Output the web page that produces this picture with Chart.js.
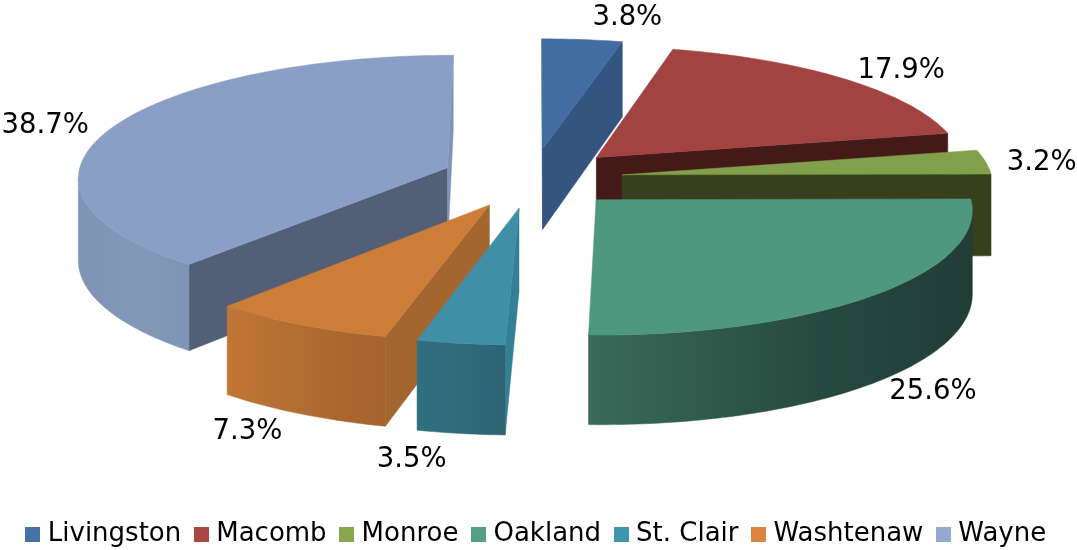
<!DOCTYPE html>
<html>
<head>
<meta charset="utf-8">
<title>Counties</title>
<script src="https://cdn.jsdelivr.net/npm/chart.js@4"></script>
<style>
  html, body { margin: 0; padding: 0; background: #fff; overflow: hidden; }
  canvas { display: block; }
</style>
</head>
<body>
<canvas id="chrtPie" width="1077" height="550"></canvas>
<script>
const categories = ["Livingston", "Macomb", "Monroe", "Oakland", "St. Clair", "Washtenaw", "Wayne"];
const shares = [3.8, 17.9, 3.2, 25.6, 3.5, 7.3, 38.7];

const legendColors = ["#4572a7", "#aa4643", "#89a54e", "#559f86", "#3d96ae", "#db843d", "#93a9cf"];
const topColors = ["#426da3", "#a04341", "#82a04c", "#4f9880", "#3f8fa7", "#cc7d38", "#8a9fc5"];
const startFaceColors = ["#34557f", "#431a18", "#383f1d", "#213d36", "#338094", "#a3662e", "#525f76"];
const endFaceColors = ["#34557f", "#431a18", "#383f1d", "#213d36", "#338094", "#a3662e", "#7f94b5"];
const wallLeft = ["#34557f", "#431a18", "#383f1d", "#3a6a5a", "#306f80", "#c07635", "#7f94b5"];
const wallMid = ["#34557f", "#431a18", "#383f1d", "#264a3f", "#2e6a7a", "#ad6a30", "#8399ba"];
const wallRight = ["#34557f", "#431a18", "#383f1d", "#213d36", "#2d6474", "#a3642e", "#7f94b5"];

// nudge of each percent label away from the middle of its slice edge
const labelNudgeX = [45, 58, 56, 57, -49, -53, -68];
const labelNudgeY = [-22, -8, 1, 97, 116, 107, -1];

// the tilted view of the pie
const view = { cx: 532, cy: 178, radius: 370, tilt: 0.33, persp: 0.073, depth: 82 };

function project(u, v, down) {
    const w = 1 / (1 - view.persp * v);
    return {
        x: view.cx + view.radius * u * w,
        y: view.cy + view.radius * view.tilt * v * w + (down ? view.depth * w : 0)
    };
}

function tracePath(ctx, pts) {
    ctx.beginPath();
    pts.forEach((p, i) => i ? ctx.lineTo(p.x, p.y) : ctx.moveTo(p.x, p.y));
    ctx.closePath();
}

function fillPath(ctx, pts, color) {
    tracePath(ctx, pts);
    ctx.fillStyle = color;
    ctx.strokeStyle = color;
    ctx.lineWidth = 0.5;
    ctx.fill();
    ctx.stroke();
}

// geometry of one slice from the arc element that Chart.js laid out
function sliceShape(arc) {
    const start = arc.startAngle;
    const end = arc.endAngle;
    const mid = (start + end) / 2;
    const push = arc.options.offset / arc.outerRadius;
    const tipU = Math.cos(mid) * push;
    const tipV = Math.sin(mid) * push;
    const steps = Math.max(4, Math.ceil((end - start) / 0.02));
    const edge = [];
    for (let i = 0; i <= steps; i++) {
        const a = start + (end - start) * i / steps;
        edge.push({ u: tipU + Math.cos(a), v: tipV + Math.sin(a) });
    }
    return { mid, push, tipU, tipV, edge };
}

const pie3d = {
    id: "pie3d",
    afterLayout(chart) {
        // legend sits lower than the bottom padding would put it
        chart.legend.top += 7;
    },
    beforeDatasetsDraw(chart) {
        const ctx = chart.ctx;
        const arcs = chart.getDatasetMeta(0).data;
        const order = arcs.map((a, i) => i).sort((a, b) =>
            Math.sin(sliceShape(arcs[a]).mid) - Math.sin(sliceShape(arcs[b]).mid));

        order.forEach(i => {
            const s = sliceShape(arcs[i]);
            const tipTop = project(s.tipU, s.tipV, false);
            const tipLow = project(s.tipU, s.tipV, true);
            const top = s.edge.map(p => project(p.u, p.v, false));
            const low = s.edge.map(p => project(p.u, p.v, true));
            const last = top.length - 1;

            // flat cut faces, only the ones turned to the viewer
            if (top[0].x < tipTop.x) {
                fillPath(ctx, [tipTop, top[0], low[0], tipLow], startFaceColors[i]);
            }
            if (top[last].x > tipTop.x) {
                fillPath(ctx, [tipTop, top[last], low[last], tipLow], endFaceColors[i]);
            }

            // round outer wall, where the rim runs right to left on screen
            const wallTop = [];
            const wallLow = [];
            for (let k = 0; k < last; k++) {
                if (top[k + 1].x < top[k].x) {
                    if (!wallTop.length) { wallTop.push(top[k]); wallLow.push(low[k]); }
                    wallTop.push(top[k + 1]);
                    wallLow.push(low[k + 1]);
                }
            }
            if (wallTop.length) {
                const xs = wallTop.map(p => p.x);
                const grad = ctx.createLinearGradient(Math.min(...xs), 0, Math.max(...xs), 0);
                grad.addColorStop(0, wallLeft[i]);
                grad.addColorStop(0.6, wallMid[i]);
                grad.addColorStop(1, wallRight[i]);
                fillPath(ctx, wallTop.concat(wallLow.reverse()), grad);
            }

            fillPath(ctx, [tipTop].concat(top), topColors[i]);
        });

        // percent labels
        ctx.fillStyle = "#000";
        ctx.font = "27.5px 'DejaVu Sans'";
        ctx.textAlign = "center";
        ctx.textBaseline = "middle";
        arcs.forEach((arc, i) => {
            const s = sliceShape(arc);
            const r = 1 + s.push;
            const p = project(Math.cos(s.mid) * r, Math.sin(s.mid) * r, false);
            ctx.fillText(shares[i].toFixed(1) + "%", p.x + labelNudgeX[i], p.y + labelNudgeY[i]);
        });
        return false;
    }
};

function legendSwatch(color) {
    const c = document.createElement("canvas");
    c.width = 15;
    c.height = 15;
    const g = c.getContext("2d");
    g.fillStyle = color;
    g.fillRect(0, 0, 15, 15);
    return c;
}

const baseLabels = Chart.PieController.overrides.plugins.legend.labels.generateLabels;

new Chart(document.querySelector("#chrtPie"), {
    type: "pie",
    data: {
        labels: categories,
        datasets: [{
            data: shares,
            backgroundColor: legendColors,
            radius: 200,
            offset: 49,
            borderWidth: 0
        }]
    },
    plugins: [pie3d],
    options: {
        responsive: false,
        animation: false,
        layout: { padding: 0 },
        plugins: {
            tooltip: { enabled: false },
            legend: {
                position: "bottom",
                labels: {
                    usePointStyle: true,
                    pointStyleWidth: 4,
                    padding: 18,
                    color: "#000",
                    font: { family: "'DejaVu Sans'", size: 26 },
                    generateLabels(chart) {
                        return baseLabels(chart).map((item, i) => {
                            item.pointStyle = legendSwatch(legendColors[i]);
                            return item;
                        });
                    }
                }
            }
        }
    }
});
</script>
</body>
</html>
